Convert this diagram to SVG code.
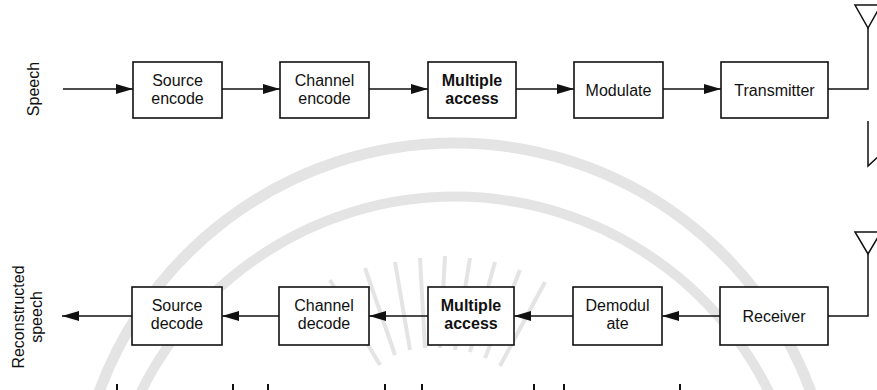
<svg xmlns="http://www.w3.org/2000/svg" width="877" height="390" viewBox="0 0 877 390">
<defs>
<marker id="ah" markerUnits="userSpaceOnUse" markerWidth="17" markerHeight="10" refX="17" refY="5" orient="auto">
<path d="M0,0 L17,5 L0,10 z" fill="#111"/>
</marker>
<style>
.box{fill:#fff;stroke:#111;stroke-width:1.6}
.ln{fill:none;stroke:#111;stroke-width:1.5}
.ar{fill:none;stroke:#111;stroke-width:1.5;marker-end:url(#ah)}
.t{font-family:"Liberation Sans",Arial,sans-serif;font-size:16px;fill:#111;text-anchor:middle}
.b{font-weight:bold}
.wm{fill:none;stroke:#e4e4e4}
</style>
</defs>
<rect width="877" height="390" fill="#fff"/>
<g id="watermark">
<path class="wm" stroke-width="11" d="M90,420 A379,379 0 0 1 820,420"/>
<path class="wm" stroke-width="10" d="M125,430 A350,350 0 0 1 785,430"/>
<g class="wm" stroke-width="4">
<line x1="380" y1="365" x2="330" y2="280"/>
<line x1="395" y1="355" x2="365" y2="268"/>
<line x1="410" y1="350" x2="395" y2="262"/>
<line x1="425" y1="348" x2="420" y2="258"/>
<line x1="440" y1="348" x2="445" y2="256"/>
<line x1="455" y1="350" x2="470" y2="258"/>
<line x1="470" y1="352" x2="495" y2="262"/>
<line x1="485" y1="358" x2="520" y2="270"/>
<line x1="500" y1="366" x2="545" y2="282"/>
</g>
</g>
<g id="connectors">
<line class="ar" x1="63" y1="89" x2="133" y2="89"/>
<line class="ar" x1="222" y1="89" x2="280" y2="89"/>
<line class="ar" x1="369" y1="89" x2="428" y2="89"/>
<line class="ar" x1="516" y1="89" x2="574" y2="89"/>
<line class="ar" x1="663" y1="89" x2="721" y2="89"/>
<polyline class="ln" points="828,89 868,89 868,28"/>
<polygon class="ln" points="855,5 881,5 868,28"/>
<polyline class="ln" points="868,121 868,166 880,155"/>
<polyline class="ln" points="828,316 868,316 868,254"/>
<polygon class="ln" points="855,232 881,232 868,254"/>
<line class="ar" x1="720" y1="316" x2="662" y2="316"/>
<line class="ar" x1="573" y1="316" x2="514" y2="316"/>
<line class="ar" x1="428" y1="316" x2="369" y2="316"/>
<line class="ar" x1="279" y1="316" x2="222" y2="316"/>
<line class="ar" x1="132" y1="316" x2="62" y2="316"/>
</g>
<g id="label-speech"><text class="t" transform="translate(39,89) rotate(-90)">Speech</text></g>
<g id="label-reconstructed"><text class="t" transform="rotate(-90 24 317)" x="24" y="317">Reconstructed</text><text class="t" transform="rotate(-90 42 317)" x="42" y="317">speech</text></g>
<g id="source-encode"><rect class="box" x="133" y="62" width="89" height="56"/><text class="t" x="177.5" y="86">Source</text><text class="t" x="177.5" y="104">encode</text></g>
<g id="channel-encode"><rect class="box" x="280" y="62" width="89" height="56"/><text class="t" x="324.5" y="86">Channel</text><text class="t" x="324.5" y="104">encode</text></g>
<g id="multiple-access-tx"><rect class="box" x="428" y="62" width="88" height="56"/><text class="t b" x="472" y="86">Multiple</text><text class="t b" x="472" y="104">access</text></g>
<g id="modulate"><rect class="box" x="574" y="62" width="89" height="56"/><text class="t" x="618.5" y="96">Modulate</text></g>
<g id="transmitter"><rect class="box" x="721" y="62" width="107" height="56"/><text class="t" x="774.5" y="96">Transmitter</text></g>
<g id="source-decode"><rect class="box" x="132" y="287" width="90" height="58"/><text class="t" x="177" y="311">Source</text><text class="t" x="177" y="329">decode</text></g>
<g id="channel-decode"><rect class="box" x="279" y="287" width="90" height="58"/><text class="t" x="324" y="311">Channel</text><text class="t" x="324" y="329">decode</text></g>
<g id="multiple-access-rx"><rect class="box" x="428" y="287" width="86" height="58"/><text class="t b" x="471" y="311">Multiple</text><text class="t b" x="471" y="329">access</text></g>
<g id="demodulate"><rect class="box" x="573" y="287" width="89" height="58"/><text class="t" x="617.5" y="311">Demodul</text><text class="t" x="617.5" y="329">ate</text></g>
<g id="receiver"><rect class="box" x="720" y="287" width="108" height="58"/><text class="t" x="774" y="322">Receiver</text></g>
<g id="ticks" stroke="#111" stroke-width="2">
<line x1="117" y1="384" x2="117" y2="390"/>
<line x1="233" y1="384" x2="233" y2="390"/>
<line x1="268" y1="384" x2="268" y2="390"/>
<line x1="385" y1="384" x2="385" y2="390"/>
<line x1="422" y1="384" x2="422" y2="390"/>
<line x1="534" y1="384" x2="534" y2="390"/>
<line x1="564" y1="384" x2="564" y2="390"/>
<line x1="680" y1="384" x2="680" y2="390"/>
</g>
</svg>
